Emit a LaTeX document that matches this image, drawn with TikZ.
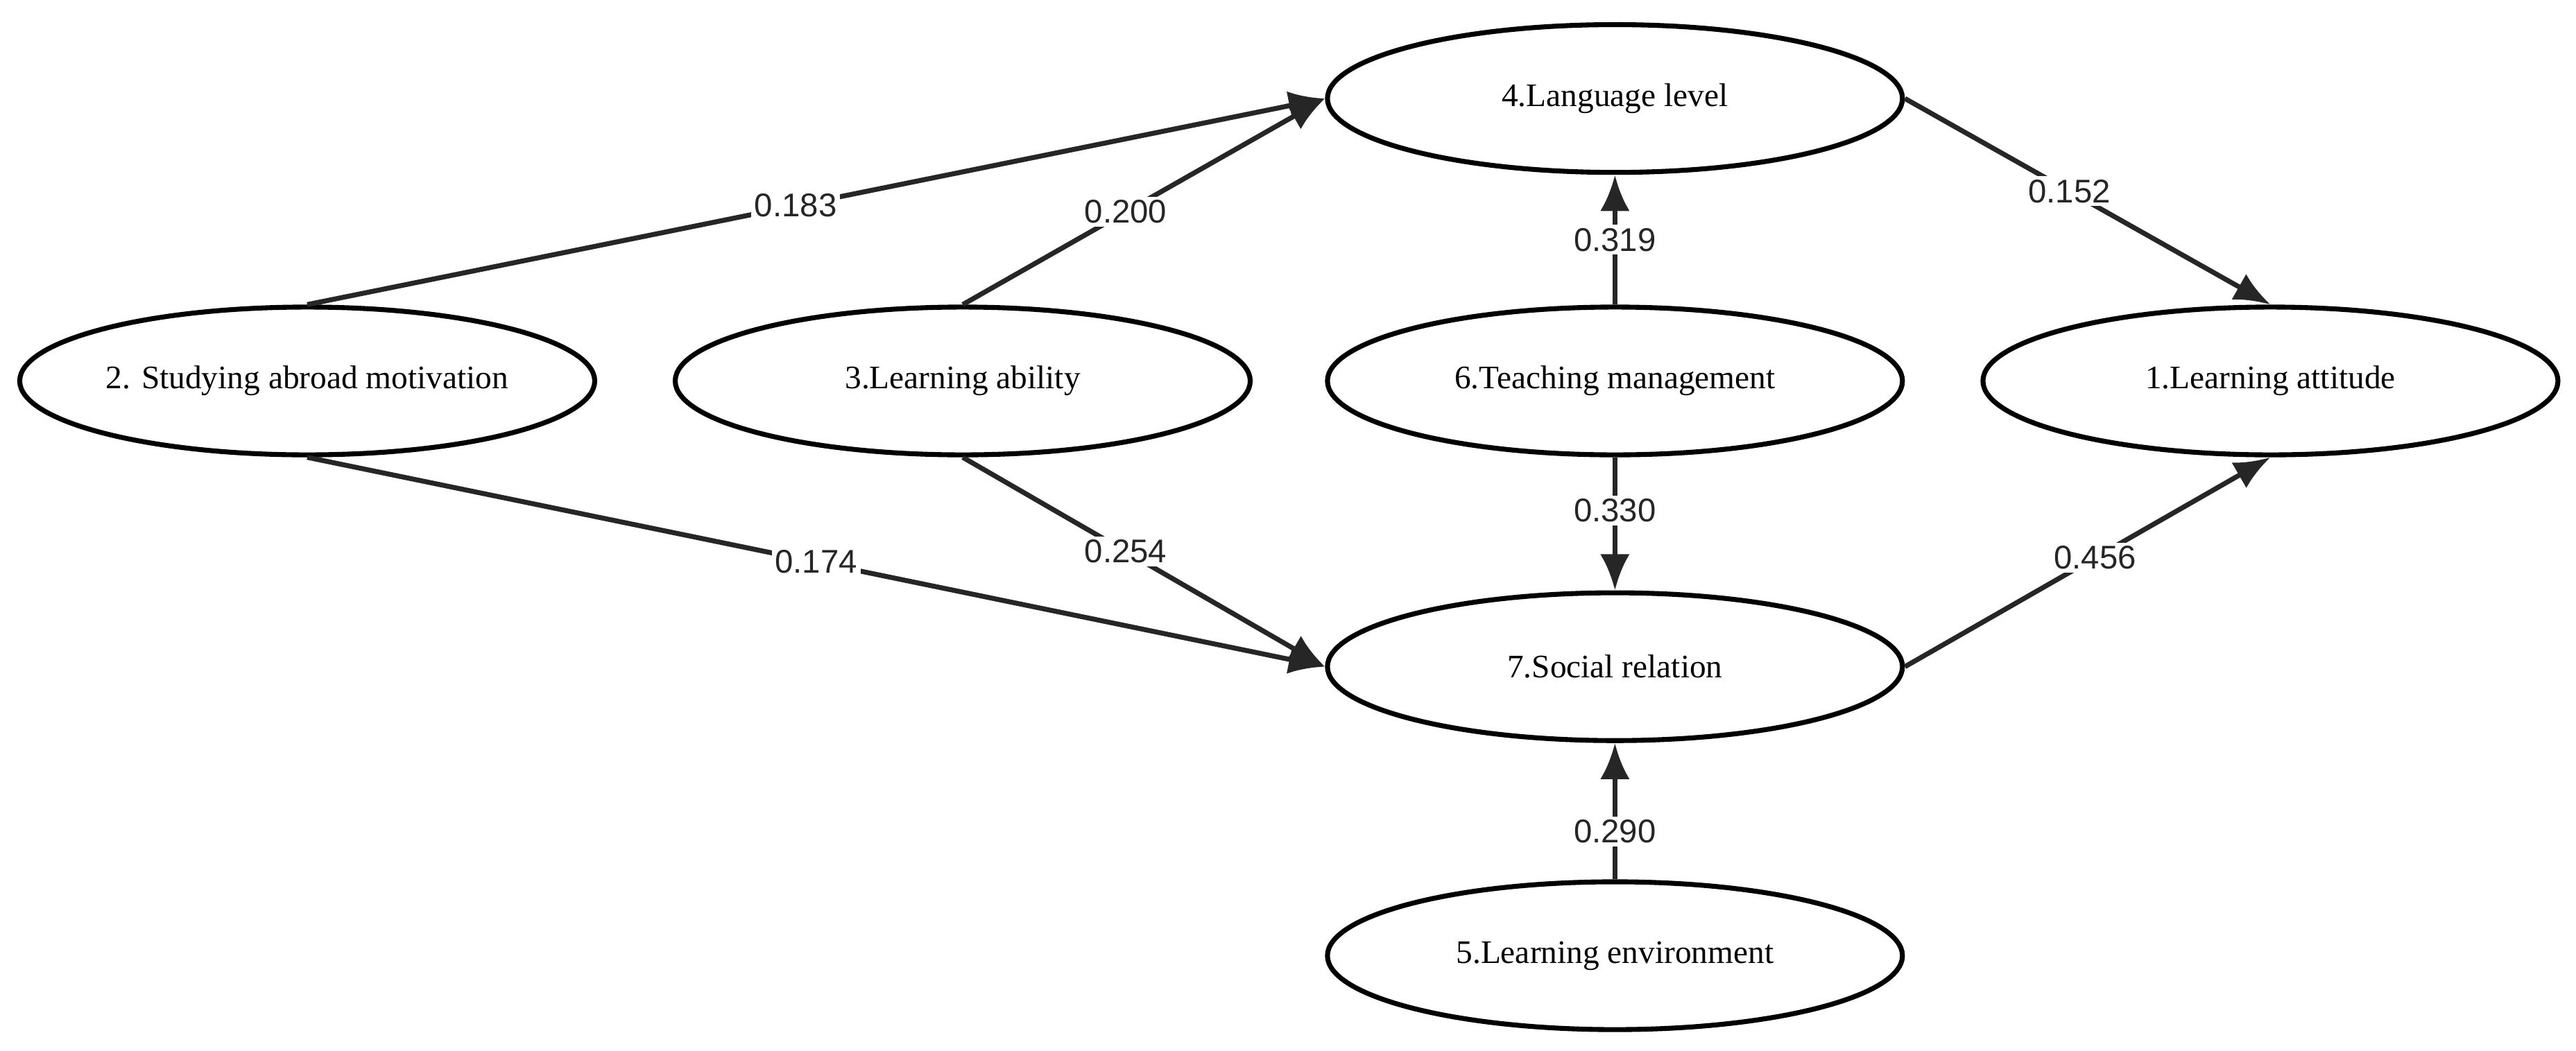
\documentclass[tikz,border=0pt]{standalone}
\usepackage{fontspec}
\setmainfont{Liberation Serif}
\newfontfamily\lab{Liberation Sans}
\usetikzlibrary{shapes.geometric,arrows.meta}
\begin{document}
\begin{tikzpicture}[x=0.5pt,y=-0.5pt,
  v/.style={ellipse,draw,line width=1.5pt,minimum width=175pt,minimum height=45pt,inner sep=0pt,font=\fontsize{10}{12}\selectfont},
  e/.style={line width=1.5pt,-{Latex[length=11pt,width=9pt]},draw=black!85},
  l/.style={fill=white,inner sep=1pt,font=\lab\fontsize{10}{12}\selectfont,text=black!85}]
\useasboundingbox (0,0) rectangle (1568,640);
\node[v] (n4) at (983,60) {4.Language level};
\node[v] (n2) at (187,232) {2. Studying abroad motivation};
\node[v] (n3) at (586,232) {3.Learning ability};
\node[v] (n6) at (983,232) {6.Teaching management};
\node[v] (n1) at (1382,232) {1.Learning attitude};
\node[v] (n7) at (983,406) {7.Social relation};
\node[v] (n5) at (983,582) {5.Learning environment};
\draw[e] (n2.north) -- node[l,pos=0.48]{0.183} (n4.west);
\draw[e] (n3.north) -- node[l,pos=0.45]{0.200} (n4.west);
\draw[e] (n6.north) -- node[l]{0.319} (n4.south);
\draw[e] (n4.east) -- node[l,pos=0.45]{0.152} (n1.north);
\draw[e] (n2.south) -- node[l,pos=0.5]{0.174} (n7.west);
\draw[e] (n3.south) -- node[l,pos=0.45]{0.254} (n7.west);
\draw[e] (n6.south) -- node[l,pos=0.4]{0.330} (n7.north);
\draw[e] (n7.east) -- node[l,pos=0.52]{0.456} (n1.south);
\draw[e] (n5.north) -- node[l,pos=0.35]{0.290} (n7.south);
\end{tikzpicture}
\end{document}
